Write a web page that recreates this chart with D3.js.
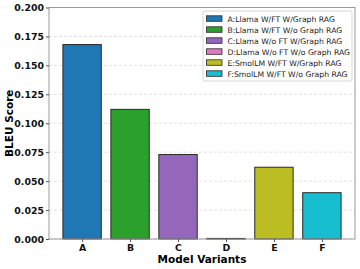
<!DOCTYPE html>
<html><head><meta charset="utf-8">
<script src="https://cdn.jsdelivr.net/npm/d3@7"></script>
<style>body{margin:0;background:#fff}svg{display:block}text{font-family:"DejaVu Sans",sans-serif}</style>
</head><body>
<svg id="c" width="360" height="269"></svg>
<script>
const categories = ["A","B","C","D","E","F"];
const values = [0.168, 0.112, 0.073, 0.0005, 0.062, 0.040];
const legendLabels = ["A:Llama W/FT W/Graph RAG","B:Llama W/FT W/o Graph RAG","C:Llama W/o FT W/Graph RAG","D:Llama W/o FT W/o Graph RAG","E:SmolLM W/FT W/Graph RAG","F:SmolLM W/FT W/o Graph RAG"];
const colors = ["#1f77b4","#2ca02c","#9467bd","#e377c2","#bcbd22","#17becf"];
const yTicks = [0,0.025,0.05,0.075,0.1,0.125,0.15,0.175,0.2];

const svg = d3.select("#c");
const L=49,R=355,T=7.5,B=239;
const x = d3.scaleLinear().domain([-0.69,5.69]).range([L,R]);
const y = d3.scaleLinear().domain([0,0.2]).range([B,T]);

// grid
svg.append("g").selectAll("line").data(yTicks).join("line")
  .attr("x1",L).attr("x2",R).attr("y1",d=>y(d)).attr("y2",d=>y(d))
  .attr("stroke","#cfcfcf").attr("stroke-width",0.6).attr("stroke-dasharray","3,2");

// bars
svg.append("g").selectAll("rect").data(values).join("rect")
  .attr("x",(d,i)=>x(i-0.4)).attr("width",x(0.4)-x(-0.4))
  .attr("y",d=>y(d)).attr("height",d=>y(0)-y(d))
  .attr("fill",(d,i)=>colors[i]).attr("stroke","#2a2a2a").attr("stroke-width",1);

// frame
svg.append("rect").attr("x",L).attr("y",T).attr("width",R-L).attr("height",B-T)
  .attr("fill","none").attr("stroke","#999").attr("stroke-width",1);

// y axis
const ya = svg.append("g").attr("transform",`translate(${L},0)`)
  .call(d3.axisLeft(y).tickValues(yTicks).tickFormat(d3.format(".3f")).tickSize(3).tickPadding(2));
ya.select(".domain").remove();
ya.selectAll("line").attr("stroke","#555");
ya.selectAll("text").attr("font-size",9.4).attr("font-weight","bold").attr("fill","#111");

// x axis
const xa = svg.append("g").attr("transform",`translate(0,${B})`)
  .call(d3.axisBottom(x).tickValues(d3.range(categories.length)).tickFormat(i=>categories[i]).tickSize(3).tickPadding(2));
xa.select(".domain").remove();
xa.selectAll("line").attr("stroke","#555");
xa.selectAll("text").attr("font-size",9.4).attr("font-weight","bold").attr("fill","#111");

// axis labels
svg.append("text").attr("x",(L+R)/2).attr("y",263).attr("text-anchor","middle")
  .attr("font-size",10.5).attr("font-weight","bold").text("Model Variants");
svg.append("text").attr("transform",`translate(13,${(T+B)/2}) rotate(-90)`).attr("text-anchor","middle")
  .attr("font-size",10.5).attr("font-weight","bold").text("BLEU Score");

// legend
const lg = svg.append("g").attr("transform","translate(203,11)");
lg.append("rect").attr("width",149).attr("height",70).attr("rx",2)
  .attr("fill","#fff").attr("fill-opacity",0.8).attr("stroke","#ccc").attr("stroke-width",0.8);
const it = lg.selectAll("g").data(legendLabels).join("g")
  .attr("transform",(d,i)=>`translate(3.5,${4.3+i*11})`);
it.append("rect").attr("width",15.5).attr("height",5.5).attr("y",0.5)
  .attr("fill",(d,i)=>colors[i]).attr("stroke","#2a2a2a").attr("stroke-width",0.8);
it.append("text").attr("x",21).attr("y",6.2).attr("font-size",7.7).attr("fill","#222").text(d=>d);
</script>
</body></html>
